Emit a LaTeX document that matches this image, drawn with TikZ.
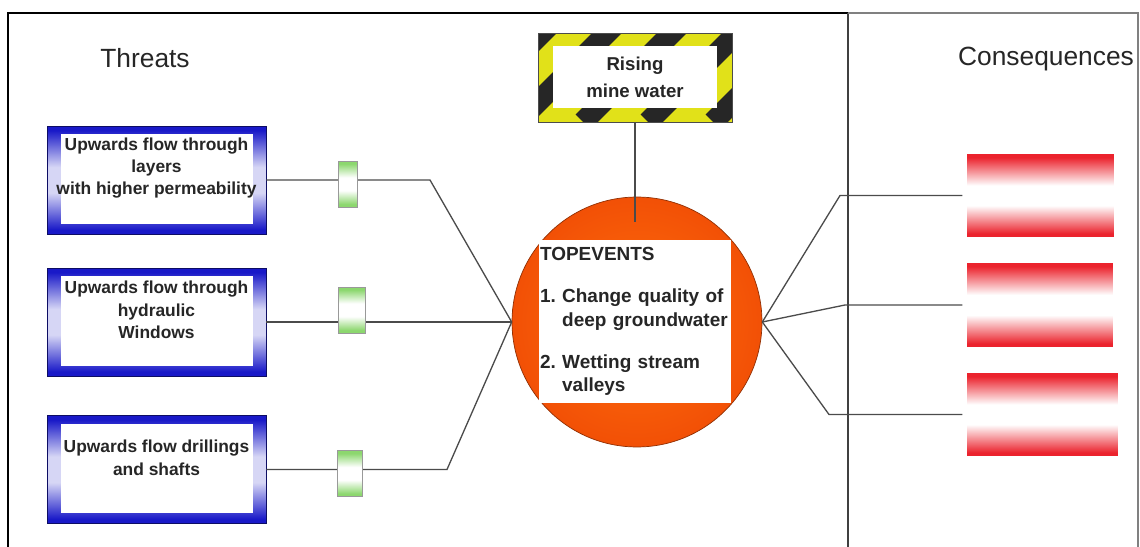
\documentclass[tikz,border=0pt]{standalone}
\usepackage{fontspec}
\setmainfont{Liberation Sans}
\usepackage{tikz}
\usetikzlibrary{positioning,calc}

\definecolor{threatblue}{RGB}{25,25,200}
\definecolor{bargreen}{RGB}{140,215,110}
\definecolor{conred}{RGB}{235,35,45}
\definecolor{evorange}{RGB}{255,112,12}
\definecolor{evred}{RGB}{242,80,6}
\definecolor{linegray}{RGB}{75,75,75}
\definecolor{hazyellow}{RGB}{225,225,25}

\pgfdeclareverticalshading{threatshade}{100bp}{color(0bp)=(threatblue); color(27bp)=(threatblue); color(44bp)=(threatblue!18!white); color(56bp)=(threatblue!18!white); color(73bp)=(threatblue); color(100bp)=(threatblue)}
\pgfdeclareverticalshading{barshade}{100bp}{color(0bp)=(bargreen); color(28bp)=(bargreen); color(43bp)=(white); color(57bp)=(white); color(72bp)=(bargreen); color(100bp)=(bargreen)}
\pgfdeclareverticalshading{conshade}{100bp}{color(0bp)=(conred); color(27bp)=(conred); color(44bp)=(white); color(56bp)=(white); color(73bp)=(conred); color(100bp)=(conred)}

\begin{document}
\begin{tikzpicture}[
    x=0.02cm, y=-0.02cm,
    title/.style={font=\fontsize{15}{18}\selectfont, text=black!85},
    threat/.style={rectangle, minimum width=4.38cm, minimum height=2.16cm, draw=threatblue!50!black, shade, shading=threatshade,
        path picture={\fill[white] ([shift={(14,8)}]path picture bounding box.north west) rectangle ([shift={(-13,-10)}]path picture bounding box.south east);}},
    threatlabel/.style={align=center, font=\fontsize{9.9}{12.8}\selectfont\bfseries, text=black!85},
    barrier/.style={rectangle, draw=black!40, shade, shading=barshade, minimum height=0.92cm, inner sep=0pt},
    hazard/.style={rectangle, minimum width=3.88cm, minimum height=1.78cm, draw=black!70, fill=hazyellow, align=center,
        font=\fontsize{10.6}{15}\selectfont\bfseries, text=black!85,
        path picture={
            \foreach \s in {-150,-85,...,260}
                \draw[black!85, line width=12pt] ([shift={(\s,0)}]path picture bounding box.south west) -- ++(150,-150);
            \fill[white] ([shift={(15,13)}]path picture bounding box.north west) rectangle ([shift={(-15,-14)}]path picture bounding box.south east);
        }},
    event/.style={circle, minimum size=5cm, draw=evred!60!black, inner color=evorange, outer color=evred},
    eventbox/.style={rectangle, fill=white, minimum width=3.8cm, minimum height=3.26cm, text width=3.8cm, inner sep=0.5pt, align=left,
        font=\fontsize{10.8}{13.2}\selectfont\bfseries, text=black!85},
    consequence/.style={rectangle, shade, shading=conshade, minimum width=2.94cm, minimum height=1.66cm},
    conn/.style={draw=linegray, line width=0.75pt},
]
\useasboundingbox (0,0) rectangle (1140,547);

% frame
\draw[line width=1.6pt] (8,547) -- (8,13) -- (848,13);
\draw[black!75, line width=1pt] (848,13) -- (848,547);
\draw[black!50, line width=0.6pt] (848,13) -- (1138,13) -- (1138,547);

\node[title] (threats) at (145,58) {Threats};
\node[title] (consequences) at (1046,59) {Consequences};

% threats
\node[threat] (t1) at (156.5,180) {};
\node[threat] (t2) at (156.5,322) {};
\node[threat] (t3) at (156.5,469.5) {};
\node[threatlabel] (t1label) at ([yshift=6.8pt]t1.center) {Upwards flow through\\layers\\with higher permeability};
\node[threatlabel] (t2label) at ([yshift=6.8pt]t2.center) {Upwards flow through\\hydraulic\\Windows};
\node[threatlabel] (t3label) at ([yshift=6.8pt]t3.center) {Upwards flow drillings\\and shafts};

% top event
\node[event] (topevent) at (637,322) {};
\node[eventbox] (eventtext) at (635,321.5) {TOPEVENTS\\[11pt]
    1.~Change quality of\\\phantom{1.~}deep groundwater\\[11pt]
    2.~Wetting stream\\\phantom{2.~}valleys};

\node[hazard] (rising) at (635,77.5) {Rising\\mine water};
\coordinate (rtip) at (635,222);
\draw[conn] (rising.south) -- (rtip);

% left side connectors
\coordinate (k1) at (430,180);
\coordinate (k3) at (447,469.5);
\draw[conn] (t1.east) -- (k1) -- (topevent.west);
\draw[conn] (t2.east) -- (topevent.west);
\draw[conn] (t3.east) -- (k3) -- (topevent.west);

\node[barrier, minimum width=0.38cm] (b1) at (347.5,184) {};
\node[barrier, minimum width=0.54cm] (b2) at (351.5,310) {};
\node[barrier, minimum width=0.5cm] (b3) at (349.5,473.5) {};

% consequences
\node[consequence] (c1) at (1040.5,195.5) {};
\node[consequence, minimum width=2.92cm, minimum height=1.68cm] (c2) at (1040,305) {};
\node[consequence, minimum width=3.02cm] (c3) at (1042.5,414.5) {};

\coordinate (k4) at (840,195.5);
\coordinate (k5) at (845,305);
\coordinate (k6) at (829,414.5);
\draw[conn, shorten >=2.5pt] (topevent.east) -- (k4) -- (c1.west);
\draw[conn, shorten >=2.5pt] (topevent.east) -- (k5) -- (c2.west);
\draw[conn, shorten >=2.5pt] (topevent.east) -- (k6) -- (c3.west);
\end{tikzpicture}
\end{document}
